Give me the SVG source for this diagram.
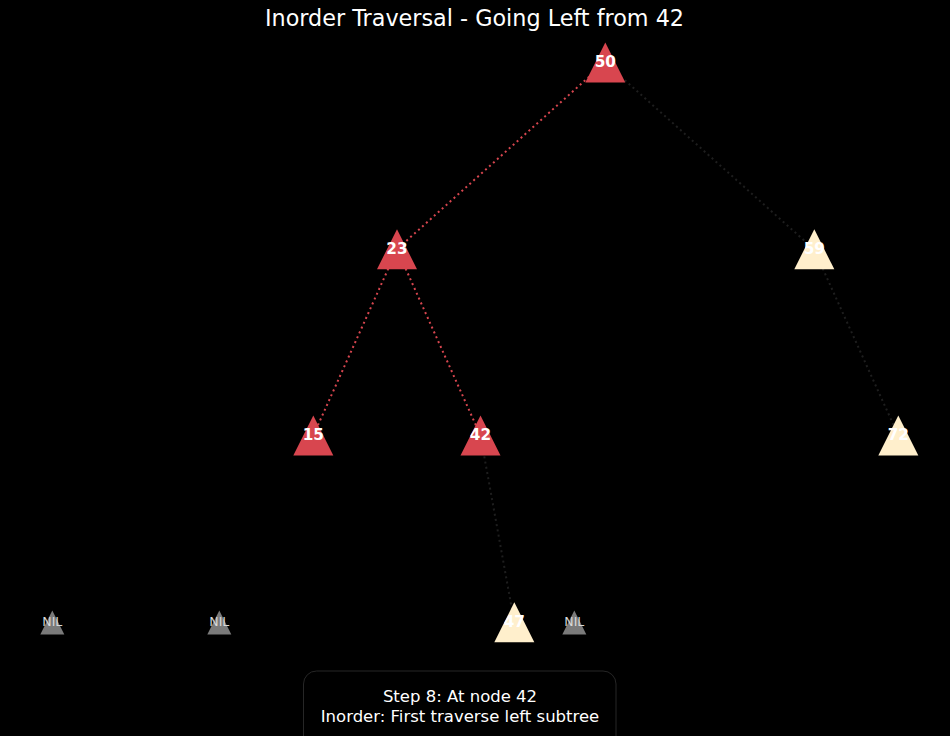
<svg xmlns="http://www.w3.org/2000/svg" xmlns:xlink="http://www.w3.org/1999/xlink" width="950" height="736" viewBox="0 0 950 736">
<style>
.bg{fill:#000}
.title{font-family:"DejaVu Sans",sans-serif;font-size:22.3px;fill:#fff;text-anchor:middle}
.lbl{font-family:"DejaVu Sans",sans-serif;font-size:15.3px;font-weight:bold;fill:#fff;text-anchor:middle}
.nil{font-family:"DejaVu Sans",sans-serif;font-size:12.5px;fill:#d8d8d8;text-anchor:middle}
.red{fill:#d8464f}
.cream{fill:#ffefcc}
.gray{fill:#7a7a7a}
.e{stroke-width:2;stroke-dasharray:2 3.3;fill:none}
.er{stroke:#d8464f}
.ek{stroke:#1e1e1e}
.info{font-family:"DejaVu Sans",sans-serif;font-size:16.5px;fill:#fff;text-anchor:middle}
</style>
<defs>
<polygon id="tri" points="0,-20 -20,20 20,20"/>
<polygon id="tris" points="0,-12 -12,12 12,12"/>
</defs>
<rect class="bg" x="0" y="0" width="950" height="736"/>
<text class="title" x="474.5" y="26">Inorder Traversal - Going Left from 42</text>
<g id="connectors">
<line class="e er" x1="605" y1="62.5" x2="397" y2="249.3"/>
<line class="e ek" x1="605" y1="62.5" x2="814" y2="249.3"/>
<line class="e er" x1="397" y1="249.3" x2="313.3" y2="435.5"/>
<line class="e er" x1="397" y1="249.3" x2="480.5" y2="435.5"/>
<line class="e ek" x1="814" y1="249.3" x2="898.3" y2="435.5"/>
<line class="e ek" x1="480.5" y1="435.5" x2="514.3" y2="622.3"/>
</g>
<g id="n50"><use xlink:href="#tri" class="red" x="605.3" y="62.5"/><text class="lbl" x="605.3" y="67">50</text></g>
<g id="n23"><use xlink:href="#tri" class="red" x="397" y="249.3"/><text class="lbl" x="397" y="254">23</text></g>
<g id="n59"><use xlink:href="#tri" class="cream" x="814.3" y="249.3"/><text class="lbl" x="814.3" y="254">59</text></g>
<g id="n15"><use xlink:href="#tri" class="red" x="313.3" y="435.5"/><text class="lbl" x="313.3" y="440.2">15</text></g>
<g id="n42"><use xlink:href="#tri" class="red" x="480.5" y="435.5"/><text class="lbl" x="480.5" y="440.2">42</text></g>
<g id="n72"><use xlink:href="#tri" class="cream" x="898.3" y="435.5"/><text class="lbl" x="898.3" y="440.2">72</text></g>
<g id="n47"><use xlink:href="#tri" class="cream" x="514.3" y="622.3"/><text class="lbl" x="514.3" y="627">47</text></g>
<g id="nil1"><use xlink:href="#tris" class="gray" x="52.3" y="622.5"/><text class="nil" x="52.3" y="626">NIL</text></g>
<g id="nil2"><use xlink:href="#tris" class="gray" x="219.3" y="622.5"/><text class="nil" x="219.3" y="626">NIL</text></g>
<g id="nil3"><use xlink:href="#tris" class="gray" x="574.3" y="622.5"/><text class="nil" x="574.3" y="626">NIL</text></g>
<g id="infobox">
<rect x="303.5" y="671" width="312.5" height="80" rx="13" ry="13" fill="#000" stroke="#262626" stroke-width="1"/>
<text class="info" x="460" y="701.5">Step 8: At node 42</text>
<text class="info" x="460" y="721.5">Inorder: First traverse left subtree</text>
</g>
</svg>
